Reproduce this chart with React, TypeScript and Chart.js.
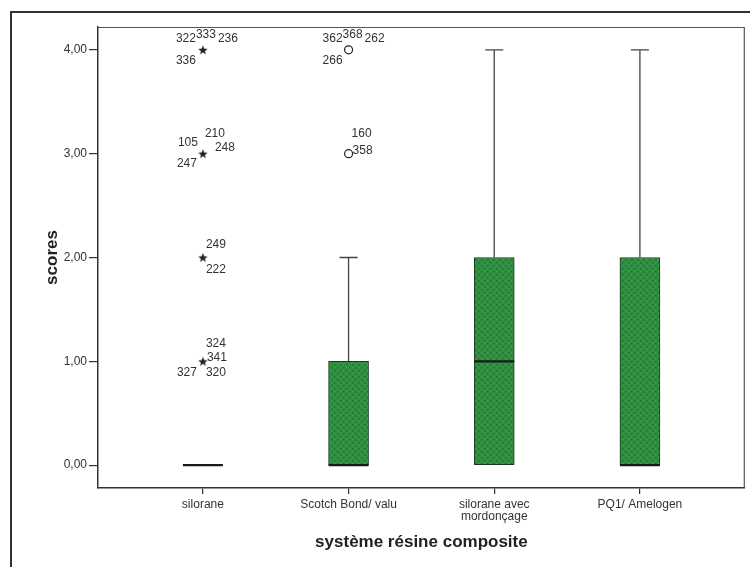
import React, { useEffect, useRef } from "react";
import { Chart, registerables } from "chart.js";

Chart.register(...registerables);

// ---- data ----
const categories: string[][] = [
  ["silorane"],
  ["Scotch Bond/ valu"],
  ["silorane avec", "mordonçage"],
  ["PQ1/ Amelogen"],
];
const whiskerLow = [0, 0, 0, 0];
const q1 = [0, 0, 0, 0];
const median = [0, 0, 1, 0];
const q3 = [0, 1, 2, 2];
const whiskerHigh = [0, 2, 4, 4];
const yTickValues = [0, 1, 2, 3, 4];

// extreme values (stars) – category "silorane"
const extremeCategory = 0;
const extremeValues = [4, 3, 2, 1];
const extremeCases = [
  ["322", "333", "236", "336"],
  ["105", "210", "248", "247"],
  ["249", "222"],
  ["324", "341", "327", "320"],
];
// outliers (circles) – category "Scotch Bond/ valu"
const outlierCategory = 1;
const outlierValues = [4, 3];
const outlierCases = [
  ["362", "368", "262", "266"],
  ["160", "358"],
];

const xTitle = "système résine composite";
const yTitle = "scores";

// ---- layout / style (pixel offsets of case labels around a marker) ----
const extremeLabelOffsets = [
  [[-17, -11], [3, -15], [25, -11], [-17, 11]],
  [[-15, -11], [12, -20], [22, -6], [-16, 10]],
  [[13, -13], [13, 12]],
  [[13, -18], [14, -4], [-16, 11], [13, 11]],
];
const outlierLabelOffsets = [
  [[-16, -11], [4, -15], [26, -11], [-16, 11]],
  [[13, -20], [14, -3]],
];

const FONT = "'Liberation Sans', Arial, Helvetica, sans-serif";

function makePattern(): CanvasPattern | string {
  const c = document.createElement("canvas");
  c.width = 6;
  c.height = 6;
  const g = c.getContext("2d");
  if (!g) return "#2f8d3e";
  g.fillStyle = "#2f913f";
  g.fillRect(0, 0, 6, 6);
  g.fillStyle = "#1f6e2c";
  g.fillRect(1, 1, 1.5, 1.5);
  g.fillRect(4, 4, 1.5, 1.5);
  g.fillStyle = "#40a34f";
  g.fillRect(4, 1, 1, 1);
  g.fillRect(1, 4, 1, 1);
  const p = g.createPattern(c, "repeat");
  return p || "#2f8d3e";
}

function makeStar(): HTMLCanvasElement {
  const size = 12;
  const c = document.createElement("canvas");
  c.width = size;
  c.height = size;
  const g = c.getContext("2d");
  if (g) {
    const cx = size / 2;
    const cy = size / 2 + 0.5;
    const ro = 5;
    const ri = 2.1;
    g.fillStyle = "#222";
    g.beginPath();
    for (let k = 0; k < 10; k++) {
      const r = k % 2 === 0 ? ro : ri;
      const ang = -Math.PI / 2 + (k * Math.PI) / 5;
      const px = cx + r * Math.cos(ang);
      const py = cy + r * Math.sin(ang);
      if (k === 0) g.moveTo(px, py);
      else g.lineTo(px, py);
    }
    g.closePath();
    g.fill();
  }
  return c;
}

const boxPlugin = {
  id: "boxExtras",
  beforeDraw(chart: any) {
    const ctx = chart.ctx;
    ctx.save();
    ctx.fillStyle = "#ffffff";
    ctx.fillRect(0, 0, chart.width, chart.height);
    // outer frame
    ctx.strokeStyle = "#333";
    ctx.lineWidth = 2;
    ctx.beginPath();
    ctx.moveTo(11, chart.height);
    ctx.lineTo(11, 12);
    ctx.lineTo(chart.width, 12);
    ctx.stroke();
    ctx.restore();
  },
  afterDatasetsDraw(chart: any) {
    const ctx = chart.ctx;
    const xs = chart.scales.x;
    const ys = chart.scales.y;
    const a = chart.chartArea;
    ctx.save();
    // plot frame (top & right)
    ctx.strokeStyle = "#555";
    ctx.lineWidth = 1.2;
    ctx.beginPath();
    ctx.moveTo(a.left, a.top + 0.5);
    ctx.lineTo(a.right - 0.5, a.top + 0.5);
    ctx.lineTo(a.right - 0.5, a.bottom);
    ctx.stroke();

    const halfBox = 20;
    const halfCap = 9;
    for (let i = 0; i < categories.length; i++) {
      const cx = xs.getPixelForValue(i);
      // whiskers
      ctx.strokeStyle = "#444";
      ctx.lineWidth = 1.3;
      if (whiskerHigh[i] > q3[i]) {
        const y0 = ys.getPixelForValue(q3[i]);
        const y1 = ys.getPixelForValue(whiskerHigh[i]);
        ctx.beginPath();
        ctx.moveTo(cx, y0);
        ctx.lineTo(cx, y1);
        ctx.moveTo(cx - halfCap, y1);
        ctx.lineTo(cx + halfCap, y1);
        ctx.stroke();
      }
      if (whiskerLow[i] < q1[i]) {
        const y0 = ys.getPixelForValue(q1[i]);
        const y1 = ys.getPixelForValue(whiskerLow[i]);
        ctx.beginPath();
        ctx.moveTo(cx, y0);
        ctx.lineTo(cx, y1);
        ctx.moveTo(cx - halfCap, y1);
        ctx.lineTo(cx + halfCap, y1);
        ctx.stroke();
      }
      // median
      const ym = ys.getPixelForValue(median[i]);
      ctx.strokeStyle = "#1a1a1a";
      ctx.lineWidth = 2.2;
      ctx.beginPath();
      ctx.moveTo(cx - halfBox, ym);
      ctx.lineTo(cx + halfBox, ym);
      ctx.stroke();
    }

    // case labels
    ctx.fillStyle = "#333";
    ctx.font = `12px ${FONT}`;
    ctx.textAlign = "center";
    ctx.textBaseline = "middle";
    const drawLabels = (cat: number, vals: number[], cases: string[][], offs: number[][][]) => {
      const cx = xs.getPixelForValue(cat);
      vals.forEach((v, k) => {
        const cy = ys.getPixelForValue(v);
        cases[k].forEach((t, j) => {
          const o = offs[k][j];
          ctx.fillText(t, cx + o[0], cy + o[1]);
        });
      });
    };
    drawLabels(extremeCategory, extremeValues, extremeCases, extremeLabelOffsets);
    drawLabels(outlierCategory, outlierValues, outlierCases, outlierLabelOffsets);
    ctx.restore();
  },
};

export default function App() {
  const ref = useRef<HTMLCanvasElement | null>(null);
  useEffect(() => {
    if (!ref.current) return;
    const fill = makePattern();
    const star = makeStar();
    const chart = new Chart(ref.current, {
      type: "bar",
      data: {
        datasets: [
          {
            type: "bar",
            data: categories.map((_, i) => ({ x: i, y: [q1[i], q3[i]] })) as any,
            backgroundColor: fill as any,
            borderColor: "#1c3a20",
            borderWidth: 1,
            borderSkipped: false,
            barThickness: 40,
            grouped: false,
          } as any,
          {
            type: "scatter",
            data: extremeValues.map((v) => ({ x: extremeCategory, y: v })),
            pointStyle: star,
            radius: 5,
            borderWidth: 0,
          } as any,
          {
            type: "scatter",
            data: outlierValues.map((v) => ({ x: outlierCategory, y: v })),
            pointStyle: "circle",
            radius: 4,
            borderColor: "#222",
            backgroundColor: "rgba(255,255,255,0)",
            borderWidth: 1.2,
          } as any,
        ],
      },
      options: {
        responsive: false,
        animation: false,
        devicePixelRatio: 1,
        layout: { padding: { top: 27, right: 5, left: 0, bottom: 0 } },
        plugins: { legend: { display: false }, tooltip: { enabled: false } },
        scales: {
          x: {
            type: "linear",
            min: -0.72,
            max: 3.72,
            offset: false,
            afterBuildTicks: (s: any) => {
              s.ticks = categories.map((_, i) => ({ value: i }));
            },
            afterFit: (s: any) => {
              s.height = 79;
            },
            ticks: {
              callback: (v: any) => categories[Number(v)] ?? "",
              color: "#333",
              font: { family: FONT, size: 12, lineHeight: 1.05 },
              padding: 4,
              maxRotation: 0,
              autoSkip: false,
            },
            grid: { offset: false, drawOnChartArea: false, drawTicks: true, tickLength: 6, color: "#333", lineWidth: 1.2 },
            border: { display: true, color: "#333", width: 1.5 },
            title: {
              display: true,
              text: xTitle,
              color: "#222",
              font: { family: FONT, size: 17, weight: "bold" },
              padding: { top: 0, bottom: 14 },
            },
          } as any,
          y: {
            type: "linear",
            min: -0.22,
            max: 4.22,
            afterBuildTicks: (s: any) => {
              s.ticks = yTickValues.map((v) => ({ value: v }));
            },
            afterFit: (s: any) => {
              s.width = 98;
            },
            ticks: {
              callback: (v: any) => Number(v).toFixed(2).replace(".", ","),
              color: "#333",
              font: { family: FONT, size: 12 },
              padding: 2,
            },
            grid: { drawOnChartArea: false, drawTicks: true, tickLength: 9, color: "#333", lineWidth: 1.2 },
            border: { display: true, color: "#333", width: 1.5 },
            title: {
              display: true,
              text: yTitle,
              color: "#222",
              font: { family: FONT, size: 17, weight: "bold" },
              padding: { top: 42, bottom: 0 },
            },
          } as any,
        },
      },
      plugins: [boxPlugin],
    });
    return () => chart.destroy();
  }, []);
  return (
    <div style={{ position: "fixed", left: 0, top: 0, width: 750, height: 567, background: "#fff" }}>
      <canvas ref={ref} width={750} height={567} style={{ display: "block", width: 750, height: 567 }} />
    </div>
  );
}
